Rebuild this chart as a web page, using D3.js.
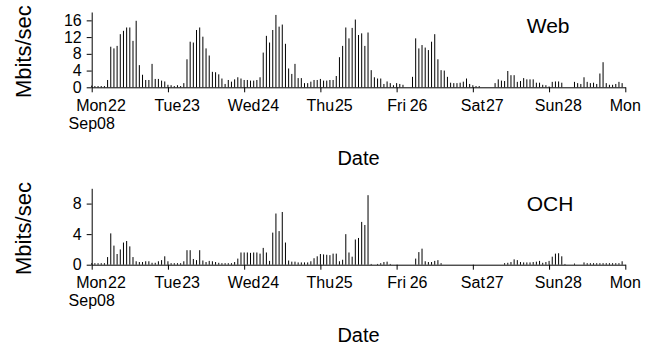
<!DOCTYPE html>
<html>
<head>
<meta charset="utf-8">
<script src="https://cdn.jsdelivr.net/npm/d3@7"></script>
<style>
  body { margin: 0; background: #fff; }
  svg { display: block; }
  text { font-family: "Liberation Sans", Arial, sans-serif; fill: #000; }
</style>
</head>
<body>
<svg id="chart" width="653" height="346"></svg>
<script>
// hourly rates, Mon 22 Sep 2008 00:00 .. Sun 28 Sep 23:00
const webRates = [
  0.4, 0.3, 0.3, 0.3, 0.3, 1.75, 9.7, 9.3, 9.9, 12.7, 13.5, 14.3, 14.3, 11.1, 15.9, 5.3, 3.0, 1.75, 1.75, 5.6, 2.0, 2.0, 1.6, 1.4,
  0.6, 0.5, 0.3, 0.5, 0.3, 1.0, 6.7, 10.9, 10.7, 13.7, 14.3, 12.1, 9.3, 7.6, 3.7, 3.6, 3.1, 2.1, 0.8, 1.75, 1.35, 1.9, 2.4, 2.1,
  1.75, 1.75, 1.6, 1.6, 1.75, 2.4, 8.3, 12.3, 10.7, 13.7, 17.3, 14.5, 15.0, 10.4, 4.5, 3.2, 5.6, 2.2, 2.2, 1.0, 1.0, 1.35, 1.75, 1.75,
  2.0, 1.6, 1.6, 1.75, 1.75, 2.7, 7.2, 9.9, 14.3, 11.7, 14.2, 16.2, 12.5, 12.9, 9.9, 13.1, 4.1, 2.4, 2.1, 2.1, 0.8, 1.4, 1.0, 0.5,
  1.0, 0.8, 0.6, 0, 0, 2.5, 11.7, 9.3, 10.1, 9.5, 8.9, 10.9, 12.7, 6.7, 4.1, 4.0, 2.5, 1.1, 1.0, 1.0, 1.1, 1.35, 2.1, 0.8,
  0.5, 0.3, 0.3, 0, 0, 0, 0, 1.0, 1.9, 1.6, 1.5, 3.9, 2.9, 2.9, 1.3, 1.5, 2.2, 1.9, 1.9, 1.9, 1.1, 1.1, 0.6, 0.5,
  0.2, 1.3, 1.4, 1.4, 1.1, 0, 0, 0, 1.3, 1.0, 0.8, 2.4, 1.3, 1.0, 1.1, 0.8, 3.3, 6.0, 1.0, 0.6, 0.6, 0.8, 1.3, 1.0
];
const ochRates = [
  0.2, 0.2, 0.2, 0.2, 0.2, 1.0, 4.1, 2.5, 1.4, 2.0, 2.9, 3.1, 2.4, 1.0, 0.45, 0.35, 0.35, 0.45, 0.45, 0.25, 0.25, 0.45, 0.6, 1.1,
  0.45, 0.2, 0.2, 0.2, 0.2, 0.45, 1.9, 1.9, 0.75, 0.6, 1.9, 0.55, 0.35, 0.5, 0.45, 0.35, 0.25, 0.2, 0.2, 0.2, 0.2, 0.35, 0.8, 1.6,
  1.6, 1.6, 1.55, 1.6, 1.6, 1.45, 2.2, 1.6, 0.5, 4.2, 6.7, 4.4, 6.9, 2.9, 0.55, 0.4, 0.4, 0.3, 0.3, 0.3, 0.3, 0.45, 0.85, 1.1,
  1.4, 1.35, 1.3, 1.25, 1.45, 1.45, 0.45, 0.65, 4.0, 1.6, 1.05, 3.3, 3.5, 5.6, 5.2, 9.1, 0.1, 0, 0.1, 0.2, 0.35, 0.4, 0.1, 0,
  0, 0, 0, 0, 0, 0, 0.8, 1.65, 2.1, 0.45, 0.35, 0.35, 0.5, 0.6, 0.2, 0, 0, 0, 0, 0, 0, 0, 0, 0,
  0, 0, 0, 0, 0, 0, 0, 0, 0, 0, 0.2, 0.25, 0.35, 0.7, 0.6, 0.35, 0.3, 0.3, 0.3, 0.35, 0.4, 0.5, 0.25, 0.35,
  0.5, 1.05, 1.45, 1.5, 1.1, 0.1, 0, 0, 0.15, 0, 0, 0.3, 0.2, 0.2, 0.2, 0.2, 0.2, 0.2, 0.2, 0.2, 0.2, 0.2, 0.2, 0.45
];
const dayNames = ['Mon', 'Tue', 'Wed', 'Thu', 'Fri', 'Sat', 'Sun', 'Mon'];
const dayNumbers = ['22', '23', '24', '25', '26', '27', '28', ''];
const firstDateLine = 'Sep08';
const webTicks = [0, 4, 8, 12, 16];
const ochTicks = [0, 4, 8];

const start = new Date(Date.UTC(2008, 8, 22));
const hourMs = 3600 * 1000;
const dayDates = dayNames.map((d, i) => new Date(start.getTime() + i * 24 * hourMs));

const svg = d3.select('#chart');

const x = d3.scaleUtc()
  .domain([dayDates[0], dayDates[dayDates.length - 1]])
  .range([91.7, 625.3]);

const panels = [
  { name: 'Web', values: webRates, ymax: 18, ticks: webTicks, top: 12, bottom: 87.3 },
  { name: 'OCH', values: ochRates, ymax: 10, ticks: ochTicks, top: 188.3, bottom: 264.7 }
];

panels.forEach(p => {
  const y = d3.scaleLinear().domain([0, p.ymax]).range([p.bottom, p.top]);
  const g = svg.append('g');

  // spikes
  g.selectAll('rect.bar')
    .data(p.values)
    .enter()
    .append('rect')
    .attr('class', 'bar')
    .attr('x', (d, i) => x(new Date(start.getTime() + i * hourMs)) - 0.5)
    .attr('y', d => y(d))
    .attr('width', 1)
    .attr('height', d => p.bottom - y(d))
    .attr('fill', '#000');

  // y axis
  const yAxis = d3.axisLeft(y)
    .tickValues(p.ticks)
    .tickSize(5)
    .tickSizeOuter(0)
    .tickPadding(5);

  g.append('g')
    .attr('class', 'y axis')
    .attr('transform', `translate(${x.range()[0]},0)`)
    .call(yAxis)
    .call(a => a.selectAll('text').attr('font-size', 16).attr('font-family', null));

  // x axis
  const xAxis = d3.axisBottom(x)
    .tickValues(dayDates)
    .tickSize(5)
    .tickSizeOuter(0)
    .tickFormat('');

  g.append('g')
    .attr('class', 'x axis')
    .attr('transform', `translate(0,${p.bottom})`)
    .call(xAxis);

  g.selectAll('.axis path, .axis line').attr('stroke', '#000');

  // day labels: name centred on the tick, date number right after it
  const labels = g.selectAll('text.day')
    .data(dayDates)
    .enter()
    .append('text')
    .attr('class', 'day')
    .attr('font-size', 16)
    .attr('y', p.bottom + 23.7);

  labels.append('tspan')
    .attr('class', 'dname')
    .attr('text-anchor', 'middle')
    .attr('x', d => x(d))
    .text((d, i) => dayNames[i]);

  labels.each(function (d, i) {
    if (!dayNumbers[i]) return;
    const t = d3.select(this);
    const nameW = t.select('.dname').node().getComputedTextLength();
    const nx = Math.max(x(d) + 13.1, x(d) + nameW / 2 + 0.8);
    t.append('tspan')
      .attr('x', nx)
      .text(dayNumbers[i]);
  });

  // second line under the first tick
  labels.filter((d, i) => i === 0)
    .append('tspan')
    .attr('text-anchor', 'middle')
    .attr('x', d => x(d))
    .attr('dy', 18)
    .text(firstDateLine);

  // axis titles
  g.append('text')
    .attr('font-size', 20)
    .attr('text-anchor', 'middle')
    .attr('x', (x.range()[0] + x.range()[1]) / 2)
    .attr('y', p.bottom + 77.7)
    .text('Date');

  g.append('text')
    .attr('font-size', 22)
    .attr('text-anchor', 'middle')
    .attr('transform', `translate(31,${(p.top + p.bottom) / 2 + 2}) rotate(-90)`)
    .text('Mbits/sec');

  g.append('text')
    .attr('font-size', 21)
    .attr('x', 526.7)
    .attr('y', p.bottom - 54)
    .text(p.name);
});
</script>
</body>
</html>
